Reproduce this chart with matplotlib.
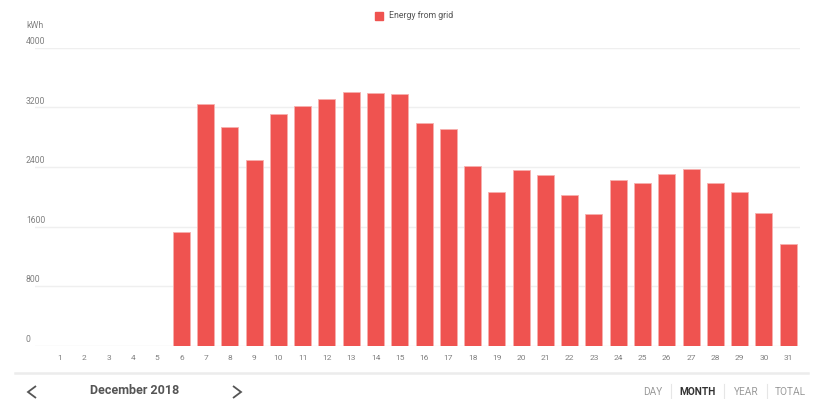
import matplotlib
matplotlib.use("Agg")
import matplotlib.pyplot as plt
from matplotlib.lines import Line2D
from matplotlib.patches import Rectangle
from matplotlib.transforms import blended_transform_factory, offset_copy

plt.rcParams['font.family'] = ['Roboto', 'DejaVu Sans']

days = list(range(1, 32))
energy_from_grid = [0, 0, 0, 0, 0, 1530, 3244, 2940, 2493, 3114, 3217, 3315,
                    3405, 3396, 3374, 2989, 2909, 2408, 2059, 2362, 2295, 2019,
                    1768, 2220, 2180, 2305, 2372, 2188, 2067, 1777, 1369]
y_ticks = [0, 800, 1600, 2400, 3200, 4000]
series_name = "Energy from grid"
unit = "kWh"
period_label = "December 2018"
range_buttons = ["DAY", "MONTH", "YEAR", "TOTAL"]
active_button = "MONTH"

W, H = 820, 399
BAR = "#ef5350"
GRID = "#efefef"
TXT = "#808080"

fig = plt.figure(figsize=(W / 100, H / 100), dpi=100)
fig.patch.set_facecolor("white")


def fx(px):
    return px / W


def fy(py):
    return 1 - py / H


ax = fig.add_axes([fx(35), fy(345.7), fx(800) - fx(35), fy(47.7) - fy(345.7)])
ax.bar(days, energy_from_grid, width=0.7, color=BAR,
       edgecolor="#f7b0ae", linewidth=0.6, zorder=3)
ax.set_ylim(0, 4000)
ax.set_xlim(-0.03, 31.49)

# horizontal gridlines with their values sitting just above, flush left
label_tf = offset_copy(blended_transform_factory(fig.transFigure, ax.transData),
                       fig=fig, y=1.2, units="points")
for t in y_ticks:
    ax.axhline(t, color=GRID, linewidth=1.0, zorder=1)
    ax.text(fx(26), t, str(t), transform=label_tf,
            fontsize=6.2, color=TXT, ha="left", va="bottom")

for s in ax.spines.values():
    s.set_visible(False)
ax.set_yticks([])
ax.set_xticks(days)
ax.set_xticklabels([str(d) for d in days], fontsize=6, color=TXT)
ax.tick_params(axis="x", length=0, pad=7)

# unit label
fig.text(fx(26), fy(26), unit, fontsize=6.4, color=TXT, ha="left", va="center")

# legend
fig.add_artist(Rectangle((fx(375), fy(19.5)), fx(8), fy(11) - fy(19), color=BAR,
                         transform=fig.transFigure))
fig.text(fx(389), fy(15.5), series_name, fontsize=6.3, color="#555555",
         ha="left", va="center")

# separator above the navigation bar
fig.add_artist(Line2D([fx(15), fx(808)], [fy(372.7), fy(372.7)],
                      color="#ececec", linewidth=1.8))

# navigation chevrons
for x0, direction in [(32, -1), (237, 1)]:
    xs = [fx(x0 - direction * 4), fx(x0 + direction * 4), fx(x0 - direction * 4)]
    ys = [fy(386), fy(392), fy(398)]
    fig.add_artist(Line2D(xs, ys, color="#555555", linewidth=1.3,
                          solid_capstyle="butt", solid_joinstyle="miter"))

fig.text(fx(135), fy(391), period_label, fontsize=9, fontweight="bold",
         color="#555555", ha="center", va="center")

# range selector
btn_x = [653, 697.5, 746, 790.5]
for label, x in zip(range_buttons, btn_x):
    active = label == active_button
    fig.text(fx(x), fy(392), label, fontsize=7.3,
             fontweight="bold" if active else "normal",
             color="#333333" if active else "#9a9a9a",
             ha="center", va="center")
for x in [671, 724.5, 767.5]:
    fig.add_artist(Line2D([fx(x), fx(x)], [fy(384), fy(399)],
                          color="#e6e6e6", linewidth=0.8))

fig.savefig("out.png", dpi=100, facecolor="white")
